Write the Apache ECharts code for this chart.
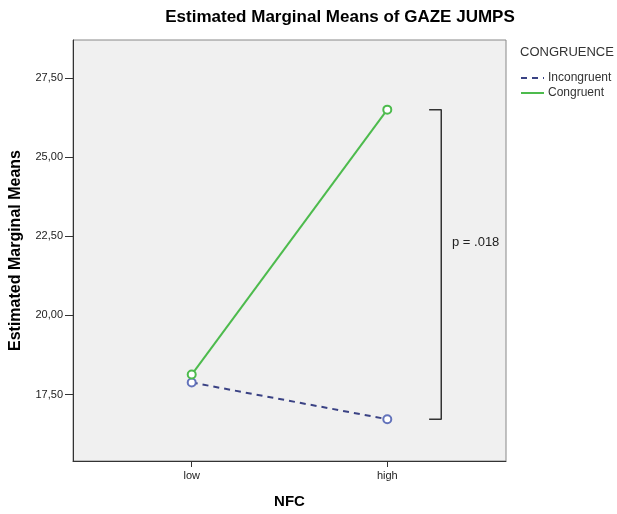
<!DOCTYPE html>
<html>
<head>
<meta charset="utf-8">
<script src="https://cdn.jsdelivr.net/npm/echarts@6/dist/echarts.min.js"></script>
<style>html,body{margin:0;padding:0;background:#fff}#c{width:617px;height:514px}</style>
</head>
<body>
<div id="c"></div>
<script>
var categories = ['low', 'high'];
var seriesNames = ['Incongruent', 'Congruent'];
var incongruent = [17.88, 16.72];
var congruent = [18.13, 26.5];
var yTicks = [17.5, 20, 22.5, 25, 27.5];
var pText = 'p = .018';

function toPts(arr) { return arr.map(function (v, i) { return [i, v]; }); }
var last = categories.length - 1;
var bracketData = [
  [last + 0.214, congruent[last]],
  [last + 0.276, congruent[last]],
  [last + 0.276, incongruent[last]],
  [last + 0.214, incongruent[last]]
];
var catIdx = categories.map(function (c, i) { return i; });

var chart = echarts.init(document.getElementById('c'), null, {renderer: 'canvas'});
var font = 'Liberation Sans, Arial, sans-serif';
chart.setOption({
  animation: false,
  backgroundColor: '#ffffff',
  title: [{
    text: 'Estimated Marginal Means of GAZE JUMPS',
    left: 335, textAlign: 'center', top: 4,
    textStyle: {fontFamily: font, fontSize: 17, fontWeight: 'bold', color: '#000'}
  }, {
    text: 'CONGRUENCE',
    left: 520, top: 46, padding: 0,
    textStyle: {fontFamily: font, fontSize: 13, fontWeight: 'normal', color: '#333'}
  }],
  legend: {
    data: seriesNames,
    orient: 'vertical', left: 520, top: 72, padding: 0,
    itemWidth: 23, itemHeight: 10, itemGap: 3,
    itemStyle: {opacity: 0},
    textStyle: {fontFamily: font, fontSize: 12, lineHeight: 11, color: '#333', padding: [0, 0, 0, -1]}
  },
  grid: {
    left: 73, right: 111, top: 40, bottom: 50,
    show: true, backgroundColor: '#f0f0f0', borderColor: '#888', borderWidth: 1
  },
  xAxis: {
    type: 'value', min: -0.607, max: 1.607,
    name: 'NFC', nameLocation: 'middle', nameGap: 33,
    nameTextStyle: {fontFamily: font, fontSize: 15, fontWeight: 'bold', color: '#000'},
    axisLine: {show: true, onZero: false, lineStyle: {color: '#333', width: 1}},
    axisTick: {show: true, length: 6, customValues: catIdx, lineStyle: {color: '#333'}},
    axisLabel: {customValues: catIdx,
      formatter: function (v) { return categories[Math.round(v)]; },
      fontFamily: font, fontSize: 11, color: '#222', margin: 9},
    splitLine: {show: false}
  },
  yAxis: {
    type: 'value', min: 15.4, max: 28.7,
    name: 'Estimated Marginal Means', nameLocation: 'middle', nameGap: 49,
    nameTextStyle: {fontFamily: font, fontSize: 16, fontWeight: 'bold', color: '#000'},
    axisLine: {show: true, onZero: false, lineStyle: {color: '#333', width: 1}},
    axisTick: {show: true, length: 8, customValues: yTicks, lineStyle: {color: '#333'}},
    axisLabel: {customValues: yTicks,
      formatter: function (v) { return v.toFixed(2).replace('.', ','); },
      fontFamily: font, fontSize: 11, color: '#222', margin: 10},
    splitLine: {show: false}
  },
  series: [{
    name: seriesNames[0], type: 'line', data: toPts(incongruent),
    symbol: 'emptyCircle', symbolSize: 8,
    lineStyle: {color: '#3a4284', width: 2, type: [6, 5]},
    itemStyle: {color: '#6373bb', borderWidth: 1.3}
  }, {
    name: seriesNames[1], type: 'line', data: toPts(congruent),
    symbol: 'emptyCircle', symbolSize: 8,
    lineStyle: {color: '#4dbb4d', width: 2},
    itemStyle: {color: '#4dbb4d', borderWidth: 1.3}
  }, {
    name: 'bracket', type: 'line', data: bracketData,
    symbol: 'none', silent: true,
    lineStyle: {color: '#333', width: 1.5}
  }],
  graphic: [{
    type: 'text', left: 452, top: 236,
    style: {text: pText, font: '13px ' + font, fill: '#222'}
  }]
});
</script>
</body>
</html>
